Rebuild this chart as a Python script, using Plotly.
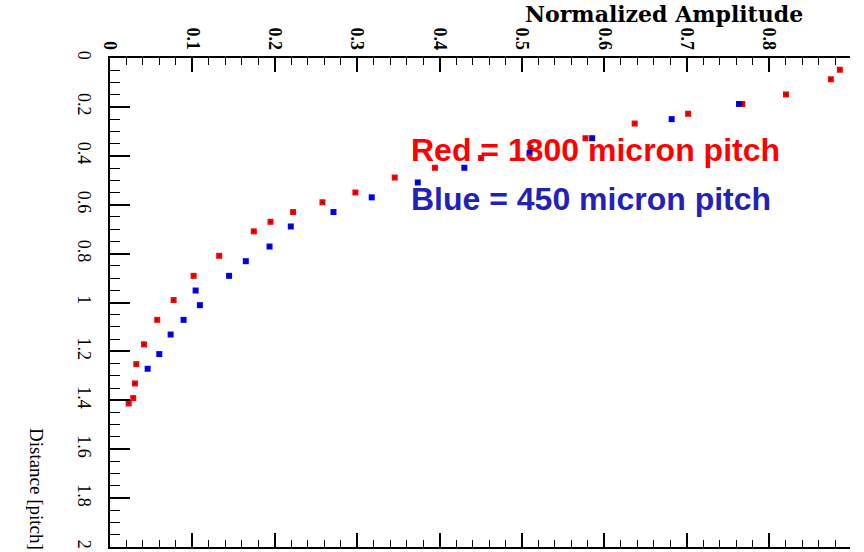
import plotly.graph_objects as go

# ---- data ----
red_amp = [0.0227, 0.0282, 0.0303, 0.0319, 0.0412, 0.0573, 0.0772, 0.1015, 0.1325,
           0.1745, 0.1948, 0.2222, 0.2578, 0.2978, 0.3455, 0.3943, 0.4503, 0.5103,
           0.5770, 0.6367, 0.7015, 0.7673, 0.8203, 0.8748, 0.8857]
red_dist = [1.413, 1.391, 1.331, 1.252, 1.171, 1.071, 0.990, 0.891, 0.809,
            0.709, 0.670, 0.630, 0.590, 0.550, 0.489, 0.449, 0.409, 0.368,
            0.328, 0.268, 0.228, 0.188, 0.149, 0.087, 0.048]

blue_amp = [0.0457, 0.0598, 0.0736, 0.0893, 0.1039, 0.1091, 0.1445, 0.1648, 0.1936,
            0.2194, 0.2712, 0.3176, 0.3735, 0.4300, 0.5091, 0.5851, 0.6816, 0.7633]
blue_dist = [1.271, 1.211, 1.131, 1.071, 0.951, 1.011, 0.891, 0.831, 0.771,
             0.689, 0.630, 0.570, 0.509, 0.449, 0.389, 0.328, 0.250, 0.188]

x_title = "Normalized Amplitude"
y_title = "Distance [pitch]"
red_label = "Red = 1300 micron pitch"
blue_label = "Blue = 450 micron pitch"

# ---- layout geometry ----
W, H = 864, 552
ML, MR, MT, MB = 110, 14, 58, 5
PW, PH = W - ML - MR, H - MT - MB


def px(x):
    return (x - ML) / PW


def py(y):
    return (H - MB - y) / PH


fig = go.Figure()
for xs, ys, col in [(red_amp, red_dist, "#ff0000"), (blue_amp, blue_dist, "#0000ff")]:
    fig.add_trace(go.Scatter(x=xs, y=ys, mode="markers",
                             marker=dict(symbol="square", size=6, color=col),
                             showlegend=False, hoverinfo="skip"))
    fig.add_trace(go.Scatter(x=xs, y=ys, mode="markers",
                             marker=dict(symbol="square", size=1.5, color="black"),
                             showlegend=False, hoverinfo="skip"))

serif = "Liberation Serif"

fig.update_layout(
    width=W, height=H,
    margin=dict(l=ML, r=MR, t=MT, b=MB, pad=0, autoexpand=False),
    paper_bgcolor="white", plot_bgcolor="white",
    showlegend=False,
    xaxis=dict(
        side="top", range=[0, 0.898], dtick=0.1, tick0=0, automargin=False,
        showgrid=False, zeroline=False,
        showline=True, linecolor="black", linewidth=1.5, mirror="ticks",
        ticks="inside", ticklen=14, tickwidth=1.5, tickcolor="black",
        minor=dict(dtick=0.02, ticks="inside", ticklen=7, tickwidth=1.2, tickcolor="black"),
        tickangle=90, ticklabelstandoff=0,
        tickfont=dict(family=serif, size=18, color="black", weight="bold"),
    ),
    yaxis=dict(
        range=[2, 0], dtick=0.2, tick0=0, automargin=False,
        showgrid=False, zeroline=False,
        showline=True, linecolor="black", linewidth=2, mirror=False,
        ticks="inside", ticklen=20, tickwidth=1.5, tickcolor="black",
        minor=dict(dtick=0.05, ticks="inside", ticklen=10, tickwidth=1.2, tickcolor="black"),
        tickangle=90, ticklabelstandoff=8,
        tickfont=dict(family=serif, size=18, color="black"),
    ),
)

fig.add_annotation(text="<b>" + x_title + "</b>", xref="paper", yref="paper",
                   x=px(523), y=py(14), xanchor="left", yanchor="middle",
                   showarrow=False, font=dict(family="DejaVu Serif", size=22, color="black"))
fig.add_annotation(text=y_title, xref="paper", yref="paper",
                   x=px(37), y=py(489), xanchor="center", yanchor="middle",
                   textangle=90, showarrow=False,
                   font=dict(family=serif, size=19, color="black"))
fig.add_annotation(text="<b>" + red_label + "</b>", xref="paper", yref="paper",
                   x=px(409), y=py(150), xanchor="left", yanchor="middle",
                   showarrow=False, font=dict(family="Liberation Sans", size=32, color="#ff0000"))
fig.add_annotation(text="<b>" + blue_label + "</b>", xref="paper", yref="paper",
                   x=px(409), y=py(199), xanchor="left", yanchor="middle",
                   showarrow=False, font=dict(family="Liberation Sans", size=32, color="#2222bb"))

fig.write_html("out.html", config={"displayModeBar": False},
               post_script="document.body.style.margin='0';document.body.style.padding='0';")
